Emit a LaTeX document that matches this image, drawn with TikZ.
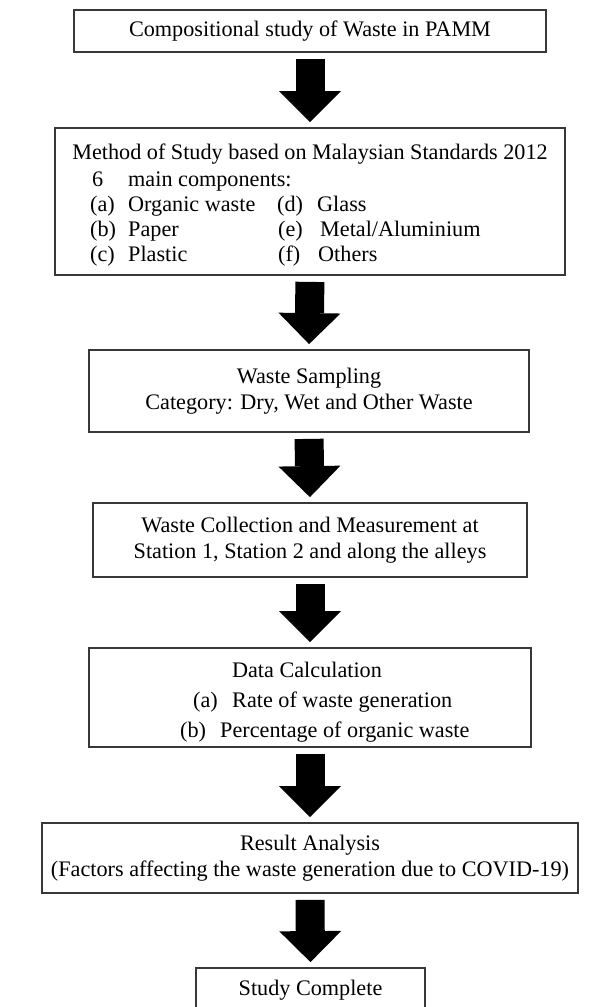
\documentclass[tikz,border=0pt]{standalone}
\usepackage{fontspec}
\setmainfont{Liberation Serif}
\usetikzlibrary{arrows.meta}

\begin{document}
\begin{tikzpicture}[x=1pt,y=-1pt,
  box/.style={draw=black!78,line width=1.8pt,inner sep=0pt,align=center,
    font=\fontsize{22.2}{25.5}\selectfont},
  txt/.style={inner sep=0pt,font=\fontsize{22.2}{25.5}\selectfont},
  item/.style={txt,anchor=base west},
  bigarrow/.style={line width=29pt,
    -{Triangle[width=62pt,length=31pt,line width=0pt]},
    shorten <=6pt,shorten >=5pt}]
  \useasboundingbox (0,0) rectangle (596,1007);

  % the boxes, top to bottom
  \node[box,minimum width=472,minimum height=42] (s1) at (310,31)
    {Compositional study of Waste in PAMM};
  \node[box,minimum width=510,minimum height=147] (s2) at (310,201.5) {};
  \node[box,minimum width=440,minimum height=82] (s3) at (309,391)
    {Waste Sampling\\Category: Dry, Wet and Other Waste};
  \node[box,minimum width=434,minimum height=74] (s4) at (310,540)
    {Waste Collection and Measurement at\\Station 1, Station 2 and along the alleys};
  \node[box,minimum width=442,minimum height=99] (s5) at (310,697.5) {};
  \node[box,minimum width=536,minimum height=70] (s6) at (310,858)
    {Result Analysis\\(Factors affecting the waste generation due to COVID-19)};
  \node[box,minimum width=229,minimum height=44] (s7) at (310.5,990)
    {Study Complete};

  % method of study
  \node[txt] (m0) at (310,154) {Method of Study based on Malaysian Standards 2012};
  \node[item] (m1) at (92,186) {6};
  \node[item] (m2) at (128,186) {main components:};
  \node[item] (ka) at (90,211) {(a)};
  \node[item] (va) at (128,211) {Organic waste};
  \node[item] (kd) at (277,211) {(d)};
  \node[item] (vd) at (317,211) {Glass};
  \node[item] (kb) at (90,236) {(b)};
  \node[item] (vb) at (128,236) {Paper};
  \node[item] (ke) at (278,236) {(e)};
  \node[item] (ve) at (320,236) {Metal/Aluminium};
  \node[item] (kc) at (90,261) {(c)};
  \node[item] (vc) at (128,261) {Plastic};
  \node[item] (kf) at (278,261) {(f)};
  \node[item] (vf) at (318,261) {Others};

  % data calculation
  \node[txt] (d0) at (307,670) {Data Calculation};
  \node[item] (d1) at (193,707) {(a)};
  \node[item] (d2) at (232,707) {Rate of waste generation};
  \node[item] (d3) at (180,737) {(b)};
  \node[item] (d4) at (220,737) {Percentage of organic waste};

  \foreach \p/\q in {s1/s2,s2/s3,s3/s4,s4/s5,s5/s6,s6/s7}
    \draw[bigarrow] (\p.south) -- (\q.north);
\end{tikzpicture}
\end{document}
